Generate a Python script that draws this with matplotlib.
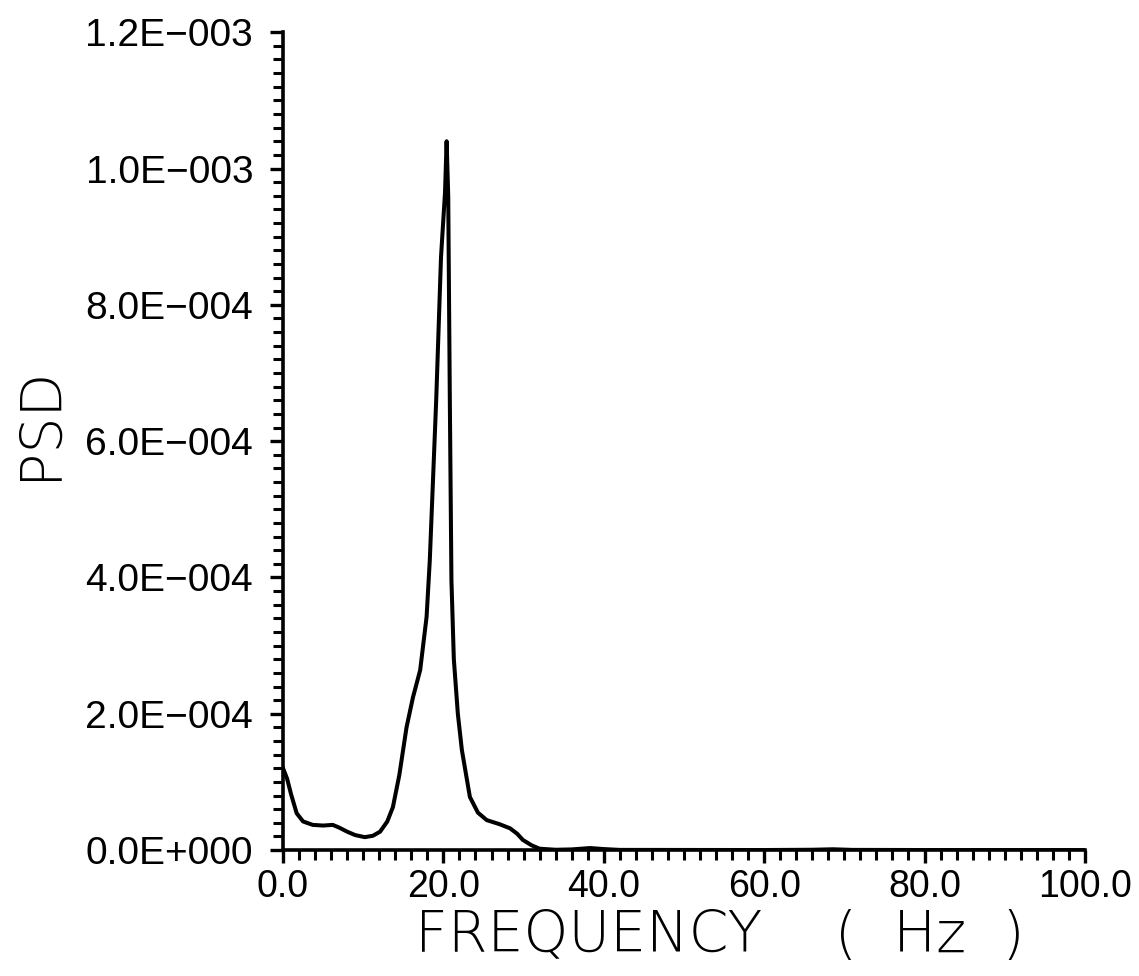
import matplotlib.pyplot as plt
from matplotlib.ticker import MultipleLocator, FixedFormatter, FixedLocator

# spectrum
freq = [0.0, 0.5, 1.0, 1.7, 2.5, 3.7, 5.0, 6.2, 7.0, 8.0, 9.0, 10.2, 11.2,
        12.1, 13.0, 13.7, 14.5, 15.4, 16.2, 17.1, 17.9, 18.3, 19.1, 19.7,
        20.2, 20.4, 20.6, 20.8, 21.0, 21.3, 21.8, 22.3, 23.3, 24.3, 25.4,
        27.0, 28.3, 29.2, 29.9, 31.0, 32.0, 34.0, 36.0, 38.3, 40.0, 42.0,
        50.0, 60.0, 66.0, 68.6, 71.0, 80.0, 100.0]
psd = [1.20e-4, 1.05e-4, 8.2e-5, 5.4e-5, 4.2e-5, 3.7e-5, 3.6e-5, 3.7e-5,
       3.3e-5, 2.7e-5, 2.2e-5, 1.9e-5, 2.1e-5, 2.7e-5, 4.2e-5, 6.3e-5,
       1.1e-4, 1.8e-4, 2.24e-4, 2.64e-4, 3.42e-4, 4.25e-4, 6.6e-4, 8.7e-4,
       9.65e-4, 1.04e-3, 9.6e-4, 6.6e-4, 3.96e-4, 2.8e-4, 2.0e-4, 1.47e-4,
       7.8e-5, 5.5e-5, 4.4e-5, 3.8e-5, 3.2e-5, 2.4e-5, 1.5e-5, 7e-6, 2e-6,
       5e-7, 1e-6, 3e-6, 1.5e-6, 3e-7, 2e-7, 1e-7, 5e-7, 1.2e-6, 3e-7,
       1e-7, 0.0]

xticks = [0, 20, 40, 60, 80, 100]
xlabels = ['0.0', '20.0', '40.0', '60.0', '80.0', '100.0']
yticks = [0, 2e-4, 4e-4, 6e-4, 8e-4, 1e-3, 1.2e-3]
ylabels = ['0.0E+000', '2.0E\u2212004', '4.0E\u2212004', '6.0E\u2212004',
           '8.0E\u2212004', '1.0E\u2212003', '1.2E\u2212003']

fig = plt.figure(figsize=(11.39, 9.76), dpi=100)
ax = fig.add_axes([0.2485, 0.129, 0.704, 0.838])

ax.plot(freq, psd, color='black', lw=2.9, solid_joinstyle='round')

ax.set_xlim(0, 100)
ax.set_ylim(0, 1.2e-3)

for side in ['top', 'right']:
    ax.spines[side].set_visible(False)
for side in ['left', 'bottom']:
    ax.spines[side].set_linewidth(2.6)

ax.xaxis.set_major_locator(FixedLocator(xticks))
ax.xaxis.set_major_formatter(FixedFormatter(xlabels))
ax.xaxis.set_minor_locator(MultipleLocator(2))
ax.yaxis.set_major_locator(FixedLocator(yticks))
ax.yaxis.set_major_formatter(FixedFormatter(ylabels))
ax.yaxis.set_minor_locator(MultipleLocator(2e-5))

ax.tick_params(which='major', length=9.5, width=2.4, direction='out')
ax.tick_params(which='minor', length=7, width=2.2, direction='out')
ax.tick_params(axis='x', which='major', pad=4)
ax.tick_params(axis='y', which='major', pad=12)

for lab in ax.get_xticklabels():
    lab.set_family(['Liberation Sans', 'DejaVu Sans'])
    lab.set_fontsize(27)
for lab in ax.get_yticklabels():
    lab.set_family(['Liberation Sans', 'DejaVu Sans'])
    lab.set_fontsize(28)

# thin lettering for the axis titles
label_font = dict(fontsize=41, family=['DejaVu Sans'], fontweight='light')
ax.set_xlabel('FREQUENCY    (  Hz  )', **label_font)
ax.xaxis.set_label_coords(0.1646, -0.1247)
ax.xaxis.label.set_horizontalalignment('left')
ax.xaxis.label.set_verticalalignment('baseline')
ax.set_ylabel('PSD', **label_font)
ax.yaxis.set_label_coords(-0.303, 0.522)
ax.yaxis.label.set_verticalalignment('center')

fig.savefig('out.png', dpi=100)
